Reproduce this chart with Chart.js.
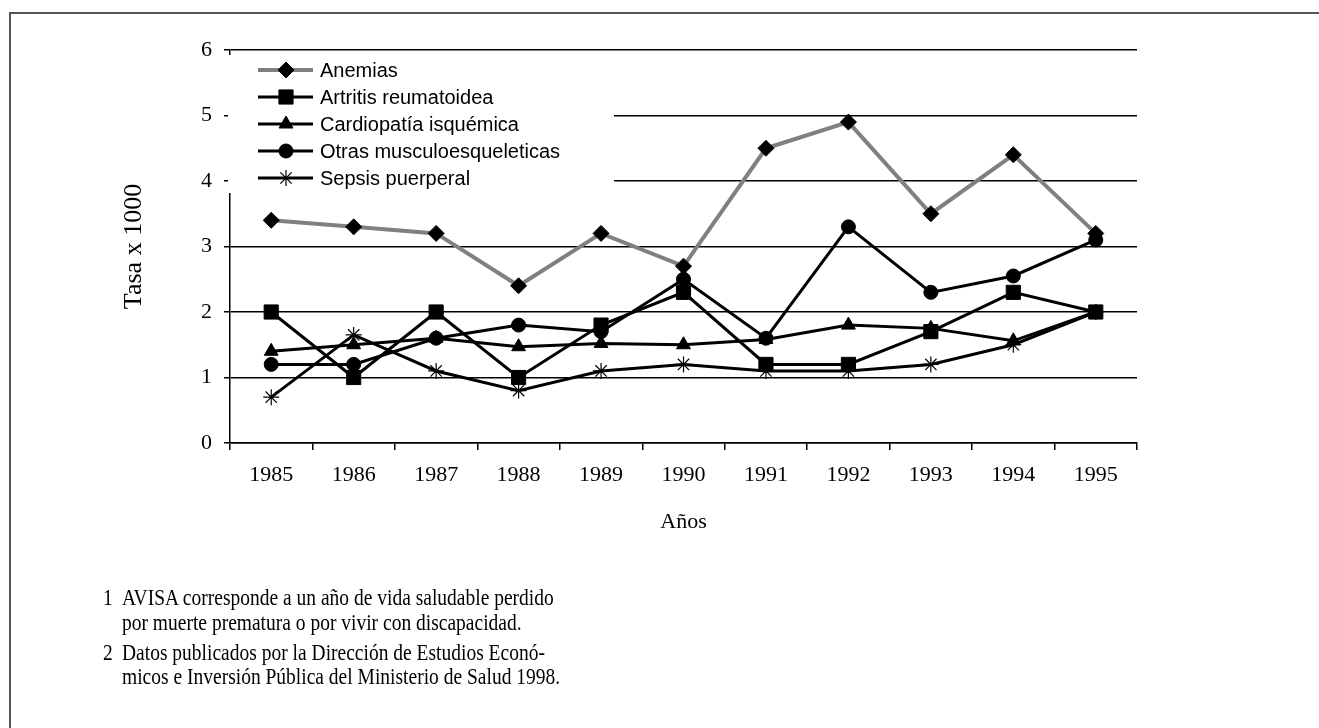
<!DOCTYPE html>
<html>
<head>
<meta charset="utf-8">
<script src="https://cdn.jsdelivr.net/npm/chart.js@4/dist/chart.umd.min.js"></script>
<style>
  body { margin: 0; background: #fff; }
  #wrap { position: relative; width: 1319px; height: 728px; overflow: hidden; }
  #frame { position: absolute; left: 9px; top: 12px; width: 1400px; height: 800px;
           border-top: 2px solid #555; border-left: 2px solid #555; }
  canvas { position: absolute; left: 0; top: 0; }
  .note { position: absolute; left: 122px; font: 19.5px "Liberation Serif", serif; line-height: 25px;
          color: #000; white-space: nowrap; transform: scaleY(1.2); transform-origin: 0 0; }
  .note .num { position: absolute; left: -19px; }
</style>
</head>
<body>
<div id="wrap">
  <div id="frame"></div>
  <canvas id="chart" width="1319" height="728"></canvas>
  <div class="note" style="top:582px"><span class="num">1</span>AVISA corresponde a un año de vida saludable perdido</div>
  <div class="note" style="top:607px">por muerte prematura o por vivir con discapacidad.</div>
  <div class="note" style="top:637px"><span class="num">2</span>Datos publicados por la Dirección de Estudios Econó-</div>
  <div class="note" style="top:661px">micos e Inversión Pública del Ministerio de Salud 1998.</div>
</div>
<script>
const years = ['1985', '1986', '1987', '1988', '1989', '1990', '1991', '1992', '1993', '1994', '1995'];
const anemias = [3.4, 3.3, 3.2, 2.4, 3.2, 2.7, 4.5, 4.9, 3.5, 4.4, 3.2];
const artritis = [2.0, 1.0, 2.0, 1.0, 1.8, 2.3, 1.2, 1.2, 1.7, 2.3, 2.0];
const cardiopatia = [1.4, 1.5, 1.6, 1.47, 1.52, 1.5, 1.58, 1.8, 1.75, 1.56, 2.0];
const otras = [1.2, 1.2, 1.6, 1.8, 1.7, 2.5, 1.6, 3.3, 2.3, 2.55, 3.1];
const sepsis = [0.7, 1.65, 1.1, 0.8, 1.1, 1.2, 1.1, 1.1, 1.2, 1.5, 2.0];

function series(label, data, color, width, style, radius, order) {
  return {
    label: label,
    data: data,
    borderColor: color,
    borderWidth: width,
    pointStyle: style,
    pointRadius: radius,
    pointBackgroundColor: '#000',
    pointBorderColor: '#000',
    pointBorderWidth: style === 'star' ? 1.2 : 1,
    tension: 0,
    order: order
  };
}

// legend drawn by hand: line + marker, white box over the grid
const boxLegend = {
  id: 'boxLegend',
  afterDatasetsDraw(chart) {
    const ctx = chart.ctx;
    ctx.save();
    ctx.fillStyle = '#fff';
    ctx.fillRect(228, 55, 386, 138);
    chart.data.datasets.forEach((ds, i) => {
      const y = 70 + i * 27;
      ctx.strokeStyle = ds.borderColor;
      ctx.lineWidth = ds.borderWidth;
      ctx.beginPath();
      ctx.moveTo(258, y);
      ctx.lineTo(313, y);
      ctx.stroke();
      ctx.fillStyle = '#000';
      ctx.strokeStyle = '#000';
      ctx.lineWidth = ds.pointBorderWidth;
      if (Chart.helpers && Chart.helpers.drawPoint) {
        Chart.helpers.drawPoint(ctx, {
          pointStyle: ds.pointStyle, radius: ds.pointRadius, rotation: 0, borderWidth: ds.pointBorderWidth
        }, 286, y);
      }
      ctx.fillStyle = '#000';
      ctx.font = '20px "Liberation Sans", Arial, sans-serif';
      ctx.textBaseline = 'middle';
      ctx.fillText(ds.label, 320, y + 1);
    });
    ctx.restore();
  }
};

new Chart(document.getElementById('chart'), {
  type: 'line',
  data: {
    labels: years,
    datasets: [
      series('Anemias', anemias, '#808080', 4, 'rectRot', 8, 5),
      series('Artritis reumatoidea', artritis, '#000', 3, 'rect', 10, 4),
      series('Cardiopatía isquémica', cardiopatia, '#000', 3, 'triangle', 8, 3),
      series('Otras musculoesqueleticas', otras, '#000', 3, 'circle', 7, 2),
      series('Sepsis puerperal', sepsis, '#000', 3, 'star', 8, 1)
    ]
  },
  options: {
    responsive: false,
    animation: false,
    devicePixelRatio: 1,
    layout: { padding: { left: 119, top: 50, right: 182, bottom: 193 } },
    plugins: { legend: { display: false }, tooltip: { enabled: false } },
    scales: {
      x: {
        offset: true,
        grid: { offset: true, drawOnChartArea: false, drawTicks: true, tickLength: 7, color: '#000', lineWidth: 1.5 },
        border: { color: '#000', width: 1.5 },
        ticks: { color: '#000', padding: 12, font: { family: 'Liberation Serif', size: 22 } },
        title: { display: true, text: 'Años', color: '#000', padding: 0, font: { family: 'Liberation Serif', size: 22 } },
        afterFit(s) { s.height = 92; }
      },
      y: {
        min: 0,
        max: 6,
        ticks: { stepSize: 1, color: '#000', padding: 12, font: { family: 'Liberation Serif', size: 22 } },
        grid: { color: '#000', lineWidth: 1.5, tickLength: 6 },
        border: { color: '#000', width: 1.5 },
        title: { display: true, text: 'Tasa x 1000', color: '#000', padding: 0, font: { family: 'Liberation Serif', size: 26 } },
        afterFit(s) { s.width = 111; }
      }
    }
  },
  plugins: [boxLegend]
});
</script>
</body>
</html>
